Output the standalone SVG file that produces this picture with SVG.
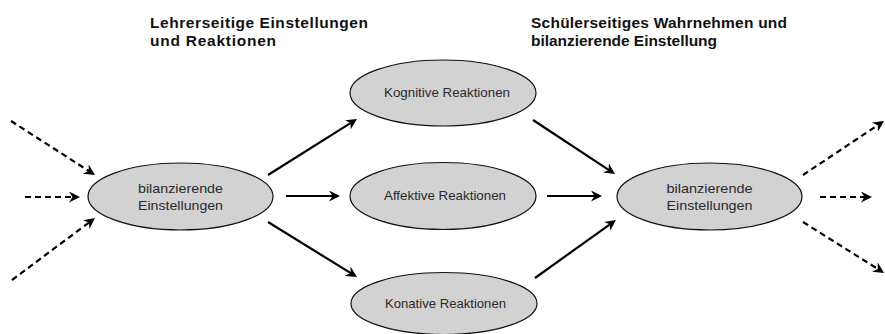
<svg xmlns="http://www.w3.org/2000/svg" width="885" height="334" viewBox="0 0 885 334">
<defs>
<style>
.title{font-family:"Liberation Sans",Arial,sans-serif;font-weight:bold;font-size:15.5px;fill:#111}
.node ellipse{fill:#d2d2d2;stroke:#111;stroke-width:1.2}
.node text{font-family:"Liberation Sans",Arial,sans-serif;font-size:13.5px;fill:#2a2a2a;text-anchor:middle}
.solid{stroke:#000;stroke-width:2.2;fill:none;marker-end:url(#ah)}
.dash{stroke:#000;stroke-width:2.2;fill:none;stroke-dasharray:6 4;marker-end:url(#ah)}
</style>
<marker id="ah" markerUnits="userSpaceOnUse" markerWidth="13" markerHeight="11" refX="7" refY="5.5" orient="auto" viewBox="0 0 13 11">
<path d="M0,0 L11,5.5 L0,11 L3.5,5.5 Z" fill="#000" stroke="none"/>
</marker>
</defs>
<rect width="885" height="334" fill="#fff"/>
<g id="titles">
<text class="title" x="150" y="28" textLength="218" lengthAdjust="spacing">Lehrerseitige Einstellungen</text>
<text class="title" x="150" y="46" textLength="126" lengthAdjust="spacing">und Reaktionen</text>
<text class="title" x="531" y="28" textLength="256" lengthAdjust="spacing">Schülerseitiges Wahrnehmen und</text>
<text class="title" x="531" y="46" textLength="186" lengthAdjust="spacing">bilanzierende Einstellung</text>
</g>
<g id="connectors">
<line class="dash" x1="11" y1="121" x2="91.6" y2="172.8"/>
<line class="dash" x1="25" y1="197" x2="76" y2="197"/>
<line class="dash" x1="12" y1="280" x2="91.8" y2="220.4"/>
<line class="solid" x1="268" y1="175" x2="353.6" y2="121.1"/>
<line class="solid" x1="286" y1="196" x2="336" y2="196"/>
<line class="solid" x1="268" y1="222" x2="353.6" y2="274.9"/>
<line class="solid" x1="533" y1="120" x2="611.7" y2="171.8"/>
<line class="solid" x1="547" y1="196" x2="598" y2="196"/>
<line class="solid" x1="535" y1="278" x2="612.7" y2="222.3"/>
<line class="dash" x1="803" y1="175" x2="880.7" y2="123.2"/>
<line class="dash" x1="820" y1="197" x2="868" y2="197"/>
<line class="dash" x1="803" y1="222" x2="880.7" y2="270.8"/>
</g>
<g id="left-bilanz" class="node">
<ellipse cx="180.5" cy="196.5" rx="92.5" ry="33.5"/>
<text x="180.5" y="193" textLength="85" lengthAdjust="spacingAndGlyphs">bilanzierende</text>
<text x="180.5" y="210" textLength="85" lengthAdjust="spacingAndGlyphs">Einstellungen</text>
</g>
<g id="kognitiv" class="node">
<ellipse cx="443" cy="93" rx="93" ry="33"/>
<text x="447" y="97" textLength="126" lengthAdjust="spacingAndGlyphs">Kognitive Reaktionen</text>
</g>
<g id="affektiv" class="node">
<ellipse cx="443" cy="196" rx="93" ry="33.5"/>
<text x="445" y="200" textLength="122" lengthAdjust="spacingAndGlyphs">Affektive Reaktionen</text>
</g>
<g id="konativ" class="node">
<ellipse cx="444" cy="303.5" rx="93" ry="31"/>
<text x="445.5" y="308" textLength="121" lengthAdjust="spacingAndGlyphs">Konative Reaktionen</text>
</g>
<g id="right-bilanz" class="node">
<ellipse cx="709.5" cy="196.5" rx="92.5" ry="33.5"/>
<text x="709.5" y="193" textLength="86" lengthAdjust="spacingAndGlyphs">bilanzierende</text>
<text x="709.5" y="210" textLength="86" lengthAdjust="spacingAndGlyphs">Einstellungen</text>
</g>
</svg>
